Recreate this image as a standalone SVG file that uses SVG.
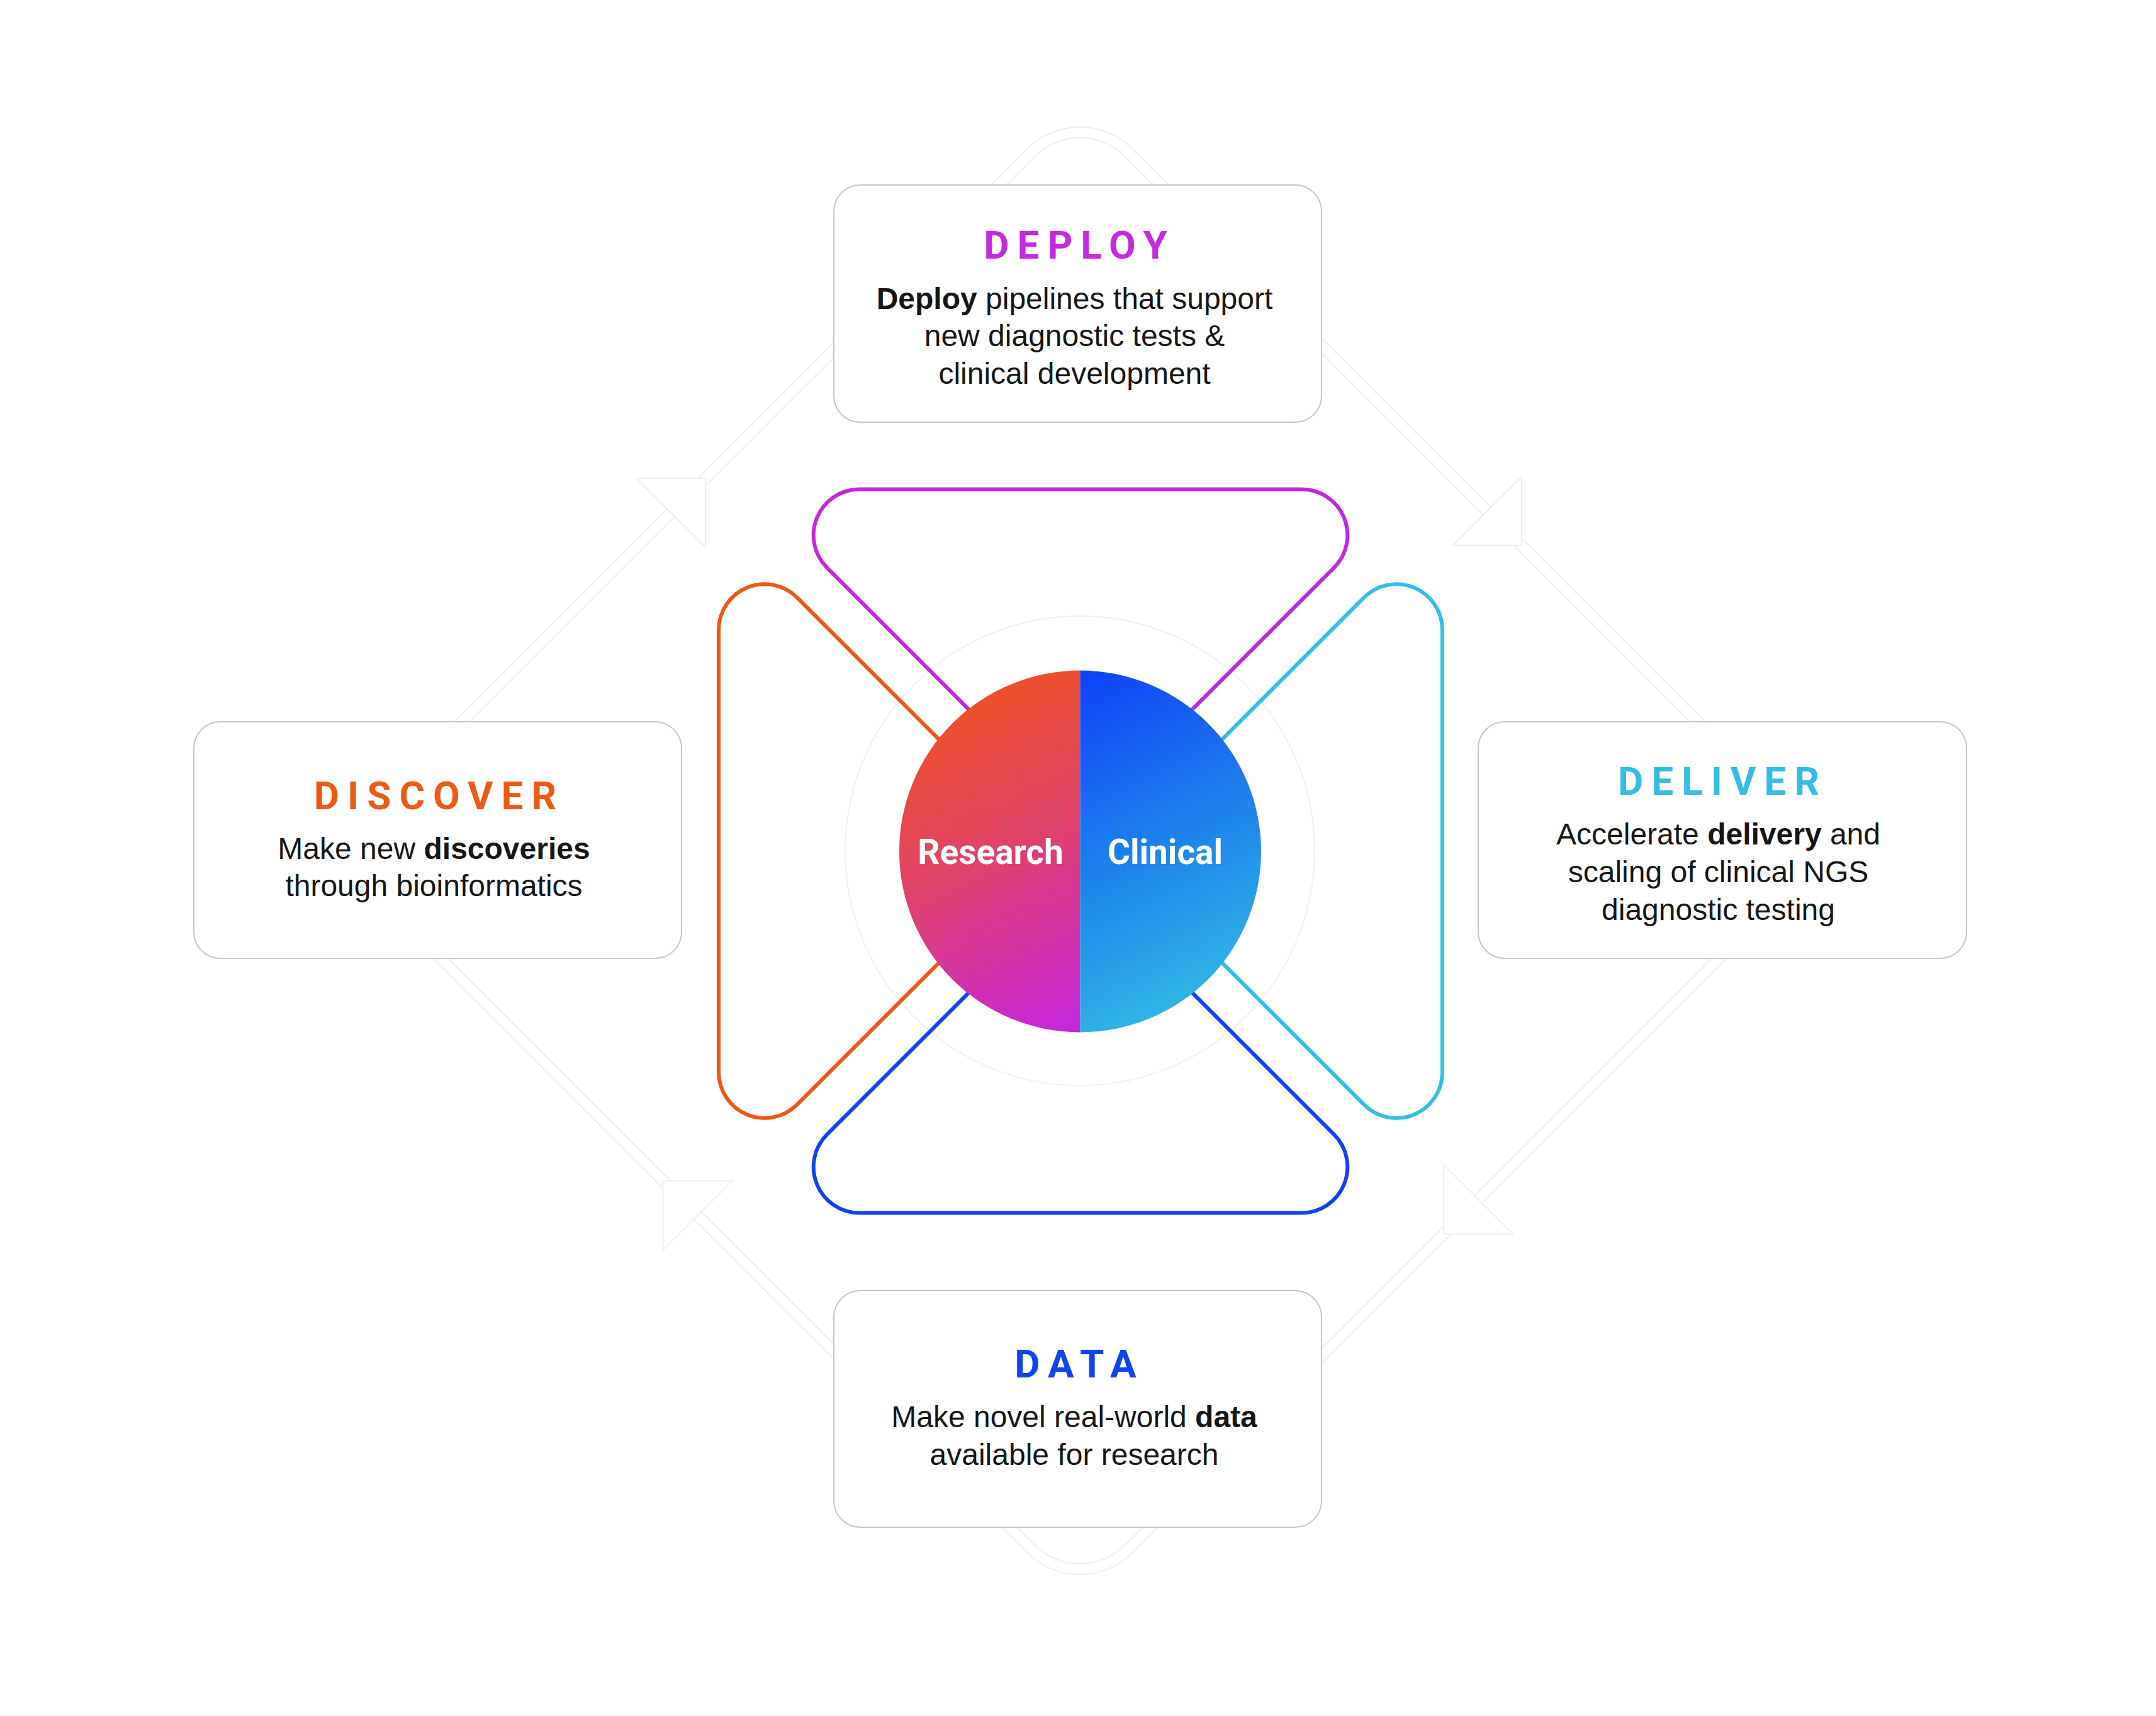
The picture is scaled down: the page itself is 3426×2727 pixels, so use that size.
<svg xmlns="http://www.w3.org/2000/svg" width="3426" height="2727" viewBox="0 0 3426 2727">
<defs>
<style>
.band{fill:none;stroke:#eeeeee;stroke-width:2}
.arrow{fill:#ffffff;stroke:#eeeeee;stroke-width:2;stroke-linejoin:miter}
.ring{fill:none;stroke:#f0f0f0;stroke-width:2}
.box{fill:#ffffff;stroke:#c6c6c6;stroke-width:2}
.title{font-family:"Roboto","Liberation Sans",sans-serif;font-weight:700;font-size:62px;letter-spacing:13px;text-anchor:middle}
.body{font-family:"Liberation Sans","Arial",sans-serif;font-size:48px;fill:#161616;text-anchor:middle}
.b{font-weight:700}
.loop{fill:none;stroke-width:6;stroke-linecap:round;stroke-linejoin:round}
.label{font-family:"Roboto","Liberation Sans",sans-serif;font-weight:700;font-size:55px;fill:#ffffff;text-anchor:middle}
</style>
<linearGradient id="gradLeft" gradientUnits="userSpaceOnUse" x1="1429" y1="1066" x2="1716" y2="1640">
<stop offset="0" stop-color="#f0550f"/>
<stop offset="0.5" stop-color="#e04369"/>
<stop offset="1" stop-color="#c626e0"/>
</linearGradient>
<linearGradient id="gradRight" gradientUnits="userSpaceOnUse" x1="1716" y1="1066" x2="2004" y2="1640">
<stop offset="0" stop-color="#0f42f8"/>
<stop offset="0.5" stop-color="#1f86ea"/>
<stop offset="1" stop-color="#36c8e2"/>
</linearGradient>
<path id="loopShape" d="M1664.5,1252.5 L1314.1,902.1 A73,73 0 0 1 1365.7,777.5 L2068.3,777.5 A73,73 0 0 1 2119.9,902.1 L1769.5,1252.5"/>
</defs>
<rect x="0" y="0" width="3426" height="2727" fill="#ffffff"/>

<g id="connectors">
<path class="band" d="M1632.6,236.4 A118,118 0 0 1 1799.4,236.4 L2831.6,1268.6 A118,118 0 0 1 2831.6,1435.4 L1799.4,2467.6 A118,118 0 0 1 1632.6,2467.6 L600.4,1435.4 A118,118 0 0 1 600.4,1268.6 Z"/>
<path class="band" d="M1644.6,248.4 A101,101 0 0 1 1787.4,248.4 L2819.6,1280.6 A101,101 0 0 1 2819.6,1423.4 L1787.4,2455.6 A101,101 0 0 1 1644.6,2455.6 L612.4,1423.4 A101,101 0 0 1 612.4,1280.6 Z"/>
<polygon class="arrow" points="1121,760 1011,760 1121,870"/>
<polygon class="arrow" points="2418,867 2418,757 2308,867"/>
<polygon class="arrow" points="2294,1961 2294,1851 2404,1961"/>
<polygon class="arrow" points="1053.5,1876.5 1163.5,1876.5 1053.5,1986.5"/>
</g>

<circle class="ring" cx="1716" cy="1352" r="373"/>

<g id="node-deploy">
<rect class="box" x="1325" y="294" width="775" height="377" rx="42" ry="42"/>
<text class="title" x="1715.5" y="411" fill="#c42be0">DEPLOY</text>
<text class="body" x="1707.5" y="490.5"><tspan class="b">Deploy</tspan> pipelines that support</text>
<text class="body" x="1707.5" y="550">new diagnostic tests &amp;</text>
<text class="body" x="1707.5" y="609.5">clinical development</text>
</g>

<g id="node-discover">
<rect class="box" x="308" y="1147" width="775" height="376" rx="42" ry="42"/>
<text class="title" x="698" y="1286" fill="#ee5a13">DISCOVER</text>
<text class="body" x="689.5" y="1365"><tspan>Make new </tspan><tspan class="b">discoveries</tspan></text>
<text class="body" x="689.5" y="1424">through bioinformatics</text>
</g>

<g id="node-deliver">
<rect class="box" x="2349" y="1147" width="776" height="376" rx="42" ry="42"/>
<text class="title" x="2737.5" y="1263" fill="#33bde6">DELIVER</text>
<text class="body" x="2730.5" y="1342"><tspan>Accelerate </tspan><tspan class="b">delivery</tspan><tspan> and</tspan></text>
<text class="body" x="2730.5" y="1402">scaling of clinical NGS</text>
<text class="body" x="2730.5" y="1462">diagnostic testing</text>
</g>

<g id="node-data">
<rect class="box" x="1325" y="2051" width="775" height="376" rx="42" ry="42"/>
<text class="title" x="1715.5" y="2189" fill="#1144f0">DATA</text>
<text class="body" x="1707" y="2268"><tspan>Make novel real-world </tspan><tspan class="b">data</tspan></text>
<text class="body" x="1707" y="2327.5">available for research</text>
</g>

<g id="loops">
<use href="#loopShape" class="loop" stroke="#c426e0"/>
<use href="#loopShape" class="loop" stroke="#33bee6" transform="rotate(90 1717 1352.5)"/>
<use href="#loopShape" class="loop" stroke="#1240f5" transform="rotate(180 1717 1352.5)"/>
<use href="#loopShape" class="loop" stroke="#f05716" transform="rotate(270 1717 1352.5)"/>
</g>

<g id="node-center">
<path d="M1716.5,1065.5 A287.5,287.5 0 0 0 1716.5,1640.5 Z" fill="url(#gradLeft)"/>
<path d="M1716.5,1065.5 A287.5,287.5 0 0 1 1716.5,1640.5 Z" fill="url(#gradRight)"/>
<text class="label" x="1574" y="1373">Research</text>
<text class="label" x="1851.5" y="1373">Clinical</text>
</g>
</svg>
